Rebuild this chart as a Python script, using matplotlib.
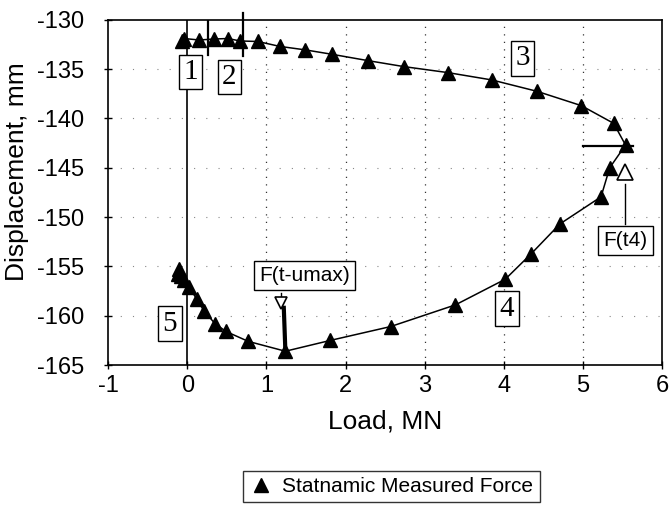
import matplotlib
matplotlib.use('Agg')
import matplotlib.pyplot as plt
from matplotlib.lines import Line2D

plt.rcParams['font.family'] = ['Liberation Sans', 'DejaVu Sans']
plt.rcParams['axes.unicode_minus'] = False

# loading branch (top) then unloading branch (right side and bottom)
load = [-0.07, -0.04, 0.15, 0.34, 0.51, 0.67, 0.89, 1.17, 1.49, 1.83, 2.29, 2.74,
        3.29, 3.85, 4.42, 4.98, 5.39, 5.54,
        5.34, 5.23, 4.71, 4.35, 4.02, 3.39, 2.57, 1.81, 1.24, 0.77, 0.49, 0.35,
        0.21, 0.12, 0.02, -0.04, -0.08, -0.12, -0.10]
disp = [-132.2, -131.9, -132.05, -131.95, -131.9, -132.15, -132.2, -132.7, -133.05,
        -133.5, -134.15, -134.75, -135.35, -136.1, -137.25, -138.7, -140.5, -142.7,
        -145.0, -147.95, -150.7, -153.7, -156.3, -158.9, -161.1, -162.5, -163.6,
        -162.6, -161.6, -160.8, -159.5, -158.3, -157.1, -156.4, -156.0, -155.8, -155.3]

x_ticks = [-1, 0, 1, 2, 3, 4, 5, 6]
y_ticks = [-165, -160, -155, -150, -145, -140, -135, -130]

phase_labels = ['1', '2', '3', '4', '5']
phase_x = [0.04, 0.53, 4.24, 4.04, -0.22]
phase_y = [-135.3, -135.8, -133.9, -159.3, -160.8]

fig = plt.figure(figsize=(6.72, 5.07), dpi=100)
ax = fig.add_axes([0.161, 0.280, 0.824, 0.681])

# dotted grid
for xv in x_ticks[2:-1]:
    ax.axvline(xv, color='#333333', lw=0.9, ls=(0, (1, 5)), zorder=0)
for yv in y_ticks[1:-1]:
    ax.axhline(yv, color='#888888', lw=0.8, ls=(0, (1, 10)), zorder=0)

ax.axvline(0, color='black', lw=1.2, zorder=1)

ax.plot(load, disp, color='black', lw=1.1, marker='^', ms=10.5, mfc='black',
        mec='black', zorder=3)

# phase boundary marks
ax.plot([0.26, 0.26], [-130.0, -133.6], color='black', lw=1.6, zorder=2)
ax.plot([0.71, 0.71], [-129.3, -133.7], color='black', lw=1.6, zorder=2, clip_on=False)
ax.plot([5.0, 5.64], [-142.8, -142.8], color='black', lw=1.6, zorder=2)

for lab, xv, yv in zip(phase_labels, phase_x, phase_y):
    ax.text(xv, yv, lab, family='Liberation Serif', fontsize=21, ha='center',
            va='center', zorder=5,
            bbox=dict(boxstyle='square,pad=0.15', fc='white', ec='black', lw=1.0))

# F(t-umax)
ax.plot([1.22, 1.24], [-159.2, -163.6], color='black', lw=3, zorder=2)
ax.plot([1.19, 1.19], [-157.7, -158.3], color='black', lw=1, zorder=2)
ax.plot([1.19], [-158.75], marker='v', ms=9, mfc='white', mec='black', mew=1.2, zorder=4)
ax.text(1.48, -155.9, 'F(t-umax)', fontsize=15, ha='center', va='center', zorder=5,
        bbox=dict(boxstyle='square,pad=0.25', fc='white', ec='black', lw=1.0))

# F(t4)
ax.plot([5.53, 5.53], [-146.6, -150.7], color='black', lw=1, zorder=2)
ax.plot([5.53], [-145.45], marker='^', ms=11, mfc='white', mec='black', mew=1.2, zorder=4)
ax.text(5.54, -152.4, 'F(t4)', fontsize=15, ha='center', va='center', zorder=5,
        bbox=dict(boxstyle='square,pad=0.25', fc='white', ec='black', lw=1.0))

ax.set_xlim(-1, 6)
ax.set_ylim(-165, -130)
ax.set_xticks(x_ticks)
ax.set_yticks(y_ticks)
ax.tick_params(direction='inout', length=6, width=1, labelsize=17)
ax.tick_params(axis='y', pad=14)
ax.tick_params(axis='x', pad=4)
for s in ax.spines.values():
    s.set_linewidth(1.2)

ax.set_xlabel('Load, MN', fontsize=19, labelpad=9)
ax.set_ylabel('Displacement, mm', fontsize=19)
ax.yaxis.set_label_coords(-0.143, 0.56)

handle = Line2D([], [], color='black', marker='^', ls='none', ms=10)
fig.legend([handle], ['Statnamic Measured Force'], loc='center',
           bbox_to_anchor=(0.582, 0.04), fontsize=15, frameon=True, fancybox=False,
           edgecolor='black', handletextpad=0.4, borderpad=0.3, handlelength=1.2)

fig.savefig('out.png', dpi=100)
